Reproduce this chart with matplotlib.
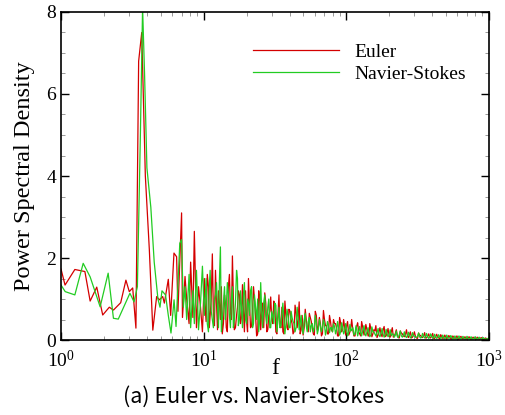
import matplotlib
matplotlib.use("Agg")
import matplotlib.pyplot as plt
from matplotlib.ticker import LogLocator, MultipleLocator, FixedLocator, NullFormatter

# ---------------- data ----------------
f_low_euler = [1.0, 1.067, 1.25, 1.47, 1.6, 1.78, 1.96, 2.18, 2.33, 2.62, 2.85, 3.01, 3.18, 3.35,
               3.5, 3.68, 3.9, 4.16, 4.4, 4.68, 4.89, 5.16, 5.3, 5.65, 5.87, 6.19, 6.46, 6.6,
               7.0, 7.1, 7.4]
psd_low_euler = [1.73, 1.34, 1.72, 1.67, 0.95, 1.29, 0.61, 0.80, 0.73, 0.91, 1.46, 1.18, 1.27, 0.29,
                 6.8, 7.5, 4.0, 2.2, 0.24, 1.06, 0.98, 1.06, 0.9, 1.48, 0.6, 2.12, 2.03, 0.7,
                 3.1, 0.55, 1.55]

f_low_ns = [1.0, 1.07, 1.25, 1.43, 1.6, 1.88, 2.14, 2.33, 2.52, 3.04, 3.25, 3.43, 3.6, 3.73,
            3.85, 4.0, 4.26, 4.5, 4.78, 4.94, 5.1, 5.4, 5.65, 5.9, 6.2, 6.4, 6.8, 7.0, 7.2, 7.4]
psd_low_ns = [1.34, 1.18, 1.10, 1.87, 1.54, 0.81, 1.63, 0.53, 0.51, 1.14, 0.93, 1.30, 5.0, 8.1,
              6.5, 4.2, 3.24, 1.9, 1.0, 0.8, 1.2, 1.1, 0.6, 0.17, 0.98, 0.33, 2.36, 2.45, 0.8, 1.3]

f_high = [7.6, 7.9, 8.1, 8.4, 8.6, 8.9, 9.2, 9.5, 9.8, 10.1,
          10.4, 10.8, 11.1, 11.5, 11.9, 12.3, 12.7, 13.1, 13.5, 14.0,
          14.4, 14.9, 15.4, 15.9, 16.4, 17.0, 17.5, 18.1, 18.7, 19.3,
          20.0, 20.6, 21.3, 22.0, 22.7, 23.5, 24.3, 25.1, 25.9, 26.8,
          27.7, 28.6, 29.5, 30.5, 31.5, 32.6, 33.7, 34.8, 35.9, 37.1,
          38.4, 39.6, 41.0, 42.3, 43.7, 45.2, 46.7, 48.2, 49.8, 51.5,
          53.2, 55.0, 56.8, 58.7, 60.6, 62.6, 64.7, 66.9, 69.1, 71.4,
          73.7, 76.2, 78.7, 81.3, 84.0, 86.8, 89.7, 92.7, 95.7, 98.9,
          102, 106, 109, 113, 117, 120, 124, 128, 133, 137,
          142, 146, 151, 156, 161, 167, 172, 178, 184, 190,
          196, 203, 210, 217, 224, 231, 239, 247, 255, 264,
          272, 281, 291, 300, 310, 321, 331, 342, 354, 365,
          378, 390, 403, 416, 430, 444, 459, 474, 490, 506,
          523, 540, 558, 577, 596, 616, 636, 657, 679, 701,
          725, 749, 773, 799, 826, 853, 881, 910, 941, 1000]

psd_high_euler = [1.0, 0.4, 1.9, 0.55, 2.65, 0.3, 1.3, 0.8, 0.2, 1.5,
                  0.45, 1.3, 0.6, 2.1, 0.35, 0.9, 1.2, 0.5, 0.15, 1.1,
                  0.3, 1.3, 0.7, 2.05, 0.25, 0.6, 1.2, 0.4, 1.35, 0.2,
                  0.45, 1.5, 0.3, 0.7, 1.0, 0.1, 1.2, 0.25, 0.9, 1.15,
                  0.2, 0.6, 1.05, 0.4, 0.85, 0.15, 1.1, 0.3, 0.2, 0.95,
                  0.3, 0.75, 0.5, 0.15, 0.85, 0.3, 0.93, 0.25, 0.12, 0.75,
                  0.3, 0.65, 0.45, 0.15, 0.7, 0.25, 0.55, 0.1, 0.72, 0.35,
                  0.15, 0.6, 0.25, 0.5, 0.4, 0.1, 0.55, 0.2, 0.5, 0.12,
                  0.45, 0.2, 0.5, 0.1, 0.3, 0.42, 0.15, 0.45, 0.12, 0.38,
                  0.1, 0.4, 0.08, 0.25, 0.35, 0.12, 0.3, 0.08, 0.33, 0.1,
                  0.28, 0.07, 0.3, 0.1, 0.25, 0.06, 0.22, 0.15, 0.08, 0.25,
                  0.06, 0.2, 0.07, 0.2, 0.05, 0.17, 0.11, 0.06, 0.18, 0.05,
                  0.15, 0.05, 0.16, 0.04, 0.14, 0.05, 0.13, 0.04, 0.12, 0.04,
                  0.11, 0.03, 0.1, 0.04, 0.1, 0.03, 0.09, 0.03, 0.08, 0.03,
                  0.08, 0.02, 0.07, 0.03, 0.07, 0.02, 0.06, 0.02, 0.05, 0.04]

psd_high_ns = [0.5, 1.6, 0.3, 1.2, 0.4, 1.7, 0.25, 0.9, 1.8, 0.6,
               1.5, 0.2, 1.7, 0.5, 1.0, 1.4, 0.3, 2.27, 0.5, 1.3,
               0.8, 1.1, 0.3, 1.3, 0.5, 1.7, 0.35, 1.2, 0.3, 1.4,
               0.4, 0.9, 1.2, 0.3, 1.1, 0.5, 0.2, 1.4, 0.3, 1.1,
               0.4, 1.0, 0.3, 0.6, 0.9, 0.2, 0.8, 0.35, 0.9, 0.15,
               0.75, 0.3, 0.7, 0.45, 0.2, 0.8, 0.25, 0.6, 0.15, 0.65,
               0.2, 0.55, 0.35, 0.2, 0.6, 0.15, 0.5, 0.2, 0.5, 0.12,
               0.45, 0.18, 0.3, 0.4, 0.15, 0.45, 0.12, 0.42, 0.15, 0.4,
               0.1, 0.38, 0.25, 0.12, 0.35, 0.1, 0.33, 0.1, 0.35, 0.1,
               0.3, 0.08, 0.32, 0.2, 0.1, 0.28, 0.08, 0.28, 0.07, 0.26,
               0.08, 0.25, 0.15, 0.07, 0.22, 0.06, 0.22, 0.07, 0.2, 0.06,
               0.19, 0.05, 0.18, 0.1, 0.06, 0.17, 0.05, 0.16, 0.05, 0.16,
               0.04, 0.15, 0.05, 0.14, 0.04, 0.13, 0.04, 0.12, 0.03, 0.12,
               0.04, 0.11, 0.03, 0.1, 0.03, 0.1, 0.03, 0.09, 0.02, 0.09,
               0.03, 0.08, 0.02, 0.08, 0.02, 0.07, 0.02, 0.06, 0.02, 0.05]

f_mid = [10.25, 10.6, 10.95, 11.3, 11.7, 12.1, 12.5, 12.9, 13.3, 13.75,
         14.2, 14.65, 15.15, 15.65, 16.15, 16.7, 17.25, 17.8, 18.4, 19.0,
         19.65, 20.3, 20.95, 21.65, 22.35, 23.1, 23.9, 24.7, 25.5, 26.35,
         27.25, 28.15, 29.05, 30.0, 31.0, 32.05, 33.15, 34.25, 35.35, 36.5,
         37.75, 39.0, 40.3, 41.65, 43.0, 44.45, 45.95, 47.45, 49.0, 50.65,
         52.35, 54.1, 55.9, 57.75, 59.65, 61.6, 63.65, 65.8, 68.0, 70.25,
         72.55, 74.95, 77.45, 80.0, 82.65, 85.4, 88.25, 91.2, 94.2, 97.3,
         100.5, 104, 107.5, 111, 115, 118.5, 122, 126, 130.5, 135,
         139.5, 144, 148.5, 153.5, 158.5, 164, 169.5, 175, 181, 187,
         193, 199.5, 206.5, 213.5, 220.5, 227.5, 235, 243, 251, 259.5,
         268, 276.5, 286, 295.5, 305, 315.5, 326, 336.5, 348, 359.5,
         371.5, 384, 396.5, 409.5, 423, 437, 451.5, 466.5, 482, 498,
         514.5, 531.5, 549, 567.5, 586.5, 606, 626, 646.5, 668, 690,
         713, 737, 761, 786, 812.5, 839.5, 867, 895.5, 925.5, 970]

psd_mid_euler = [0.8, 1.6, 0.3, 1.0, 0.6, 1.7, 0.25, 0.9, 1.3, 0.4,
                 0.9, 0.2, 1.6, 0.5, 1.0, 0.3, 0.8, 1.1, 0.55, 0.7,
                 1.2, 0.2, 0.9, 0.35, 1.3, 0.6, 0.15, 1.0, 0.7, 0.3,
                 0.9, 0.25, 0.7, 0.5, 0.95, 0.2, 0.6, 0.35, 0.8, 0.15,
                 0.6, 0.25, 0.7, 0.4, 0.2, 0.65, 0.5, 0.15, 0.6, 0.3,
                 0.5, 0.2, 0.55, 0.3, 0.12, 0.6, 0.3, 0.4, 0.15, 0.5,
                 0.35, 0.15, 0.45, 0.2, 0.4, 0.3, 0.1, 0.42, 0.25, 0.3,
                 0.35, 0.12, 0.3, 0.25, 0.1, 0.35, 0.2, 0.1, 0.3, 0.2,
                 0.25, 0.1, 0.28, 0.15, 0.22, 0.06, 0.2, 0.15, 0.25, 0.08,
                 0.18, 0.1, 0.2, 0.07, 0.16, 0.12, 0.05, 0.17, 0.1, 0.14,
                 0.1, 0.13, 0.05, 0.12, 0.09, 0.04, 0.12, 0.07, 0.1, 0.05,
                 0.09, 0.06, 0.1, 0.04, 0.08, 0.07, 0.03, 0.08, 0.05, 0.07,
                 0.05, 0.07, 0.03, 0.06, 0.05, 0.02, 0.06, 0.04, 0.05, 0.03,
                 0.05, 0.03, 0.04, 0.05, 0.02, 0.04, 0.03, 0.04, 0.02, 0.03]

psd_mid_ns = [1.0, 0.4, 1.3, 0.7, 0.3, 1.1, 0.8, 1.5, 0.2, 0.9,
              0.5, 1.4, 0.6, 1.0, 0.3, 0.9, 1.5, 0.5, 0.8, 1.1,
              0.5, 1.0, 0.6, 1.3, 0.4, 0.8, 1.0, 0.5, 0.7, 0.9,
              0.6, 0.8, 0.3, 0.7, 0.4, 0.85, 0.5, 0.3, 0.65, 0.5,
              0.4, 0.6, 0.3, 0.55, 0.4, 0.3, 0.55, 0.4, 0.25, 0.5,
              0.35, 0.45, 0.2, 0.4, 0.3, 0.42, 0.25, 0.35, 0.3, 0.38,
              0.25, 0.35, 0.3, 0.2, 0.33, 0.25, 0.3, 0.2, 0.28, 0.22,
              0.25, 0.2, 0.22, 0.3, 0.15, 0.25, 0.2, 0.18, 0.24, 0.15,
              0.2, 0.17, 0.12, 0.2, 0.15, 0.18, 0.12, 0.16, 0.14, 0.12,
              0.15, 0.12, 0.1, 0.14, 0.12, 0.09, 0.13, 0.1, 0.11, 0.09,
              0.1, 0.11, 0.08, 0.1, 0.07, 0.09, 0.08, 0.06, 0.09, 0.07,
              0.08, 0.07, 0.09, 0.05, 0.07, 0.06, 0.07, 0.05, 0.06, 0.05,
              0.06, 0.05, 0.06, 0.04, 0.05, 0.05, 0.04, 0.05, 0.04, 0.04,
              0.04, 0.04, 0.03, 0.04, 0.03, 0.04, 0.03, 0.03, 0.03, 0.03]

series_labels = ["Euler", "Navier-Stokes"]
x_tick_values = [1, 10, 100, 1000]
x_tick_labels = [r"$10^0$", r"$10^1$", r"$10^2$", r"$10^3$"]
y_tick_values = [0, 2, 4, 6, 8]


def merge(f_a, v_a, f_b, v_b):
    pairs = sorted(zip(list(f_a) + list(f_b), list(v_a) + list(v_b)))
    return [p[0] for p in pairs], [p[1] for p in pairs]


f_e_dense, p_e_dense = merge(f_high, psd_high_euler, f_mid, psd_mid_euler)
f_n_dense, p_n_dense = merge(f_high, psd_high_ns, f_mid, psd_mid_ns)
f_euler = f_low_euler + f_e_dense
p_euler = psd_low_euler + p_e_dense
f_ns = f_low_ns + f_n_dense
p_ns = psd_low_ns + p_n_dense

# ---------------- plot ----------------
plt.rcParams['font.family'] = ['Liberation Serif', 'DejaVu Serif']
plt.rcParams['mathtext.fontset'] = 'custom'
plt.rcParams['mathtext.rm'] = 'Liberation Serif'
plt.rcParams['mathtext.it'] = 'Liberation Serif:italic'

fig = plt.figure(figsize=(5.06, 4.15), dpi=100)
ax = fig.add_axes([0.1206, 0.1807, 0.8458, 0.7904])

ax.plot(f_euler, p_euler, color='#d40000', lw=0.9, label=series_labels[0])
ax.plot(f_ns, p_ns, color='#22cc22', lw=0.9, label=series_labels[1])

ax.set_xscale('log')
ax.set_xlim(1, 1000)
ax.set_ylim(0, 8)

ax.xaxis.set_major_locator(FixedLocator(x_tick_values))
ax.set_xticks(x_tick_values)
ax.set_xticklabels(x_tick_labels)
ax.xaxis.set_minor_locator(LogLocator(base=10, subs=range(2, 10)))
ax.xaxis.set_minor_formatter(NullFormatter())
ax.set_yticks(y_tick_values)
ax.yaxis.set_minor_locator(MultipleLocator(0.5))

ax.tick_params(which='both', direction='in', top=True, right=True, labelsize=14)
ax.tick_params(which='major', length=6, width=1.0)
ax.tick_params(which='minor', length=3, width=0.6, color='#888888')
ax.tick_params(axis='x', which='major', pad=7)
for s in ax.spines.values():
    s.set_linewidth(1.2)

ax.set_xlabel("f", fontsize=17, labelpad=-9)
ax.set_ylabel("Power Spectral Density", fontsize=17.5, labelpad=8)

leg = ax.legend(loc='upper left', bbox_to_anchor=(0.449, 0.905), frameon=False,
                fontsize=14, handlelength=4.4, handletextpad=0.8, borderpad=0,
                borderaxespad=0, labelspacing=0.25)

fig.text(0.502, 0.043, "(a) Euler vs. Navier-Stokes", ha='center', va='center',
         fontsize=15.5, family=['Noto Sans CJK KR', 'DejaVu Sans'])

fig.savefig("out.png", dpi=100)
